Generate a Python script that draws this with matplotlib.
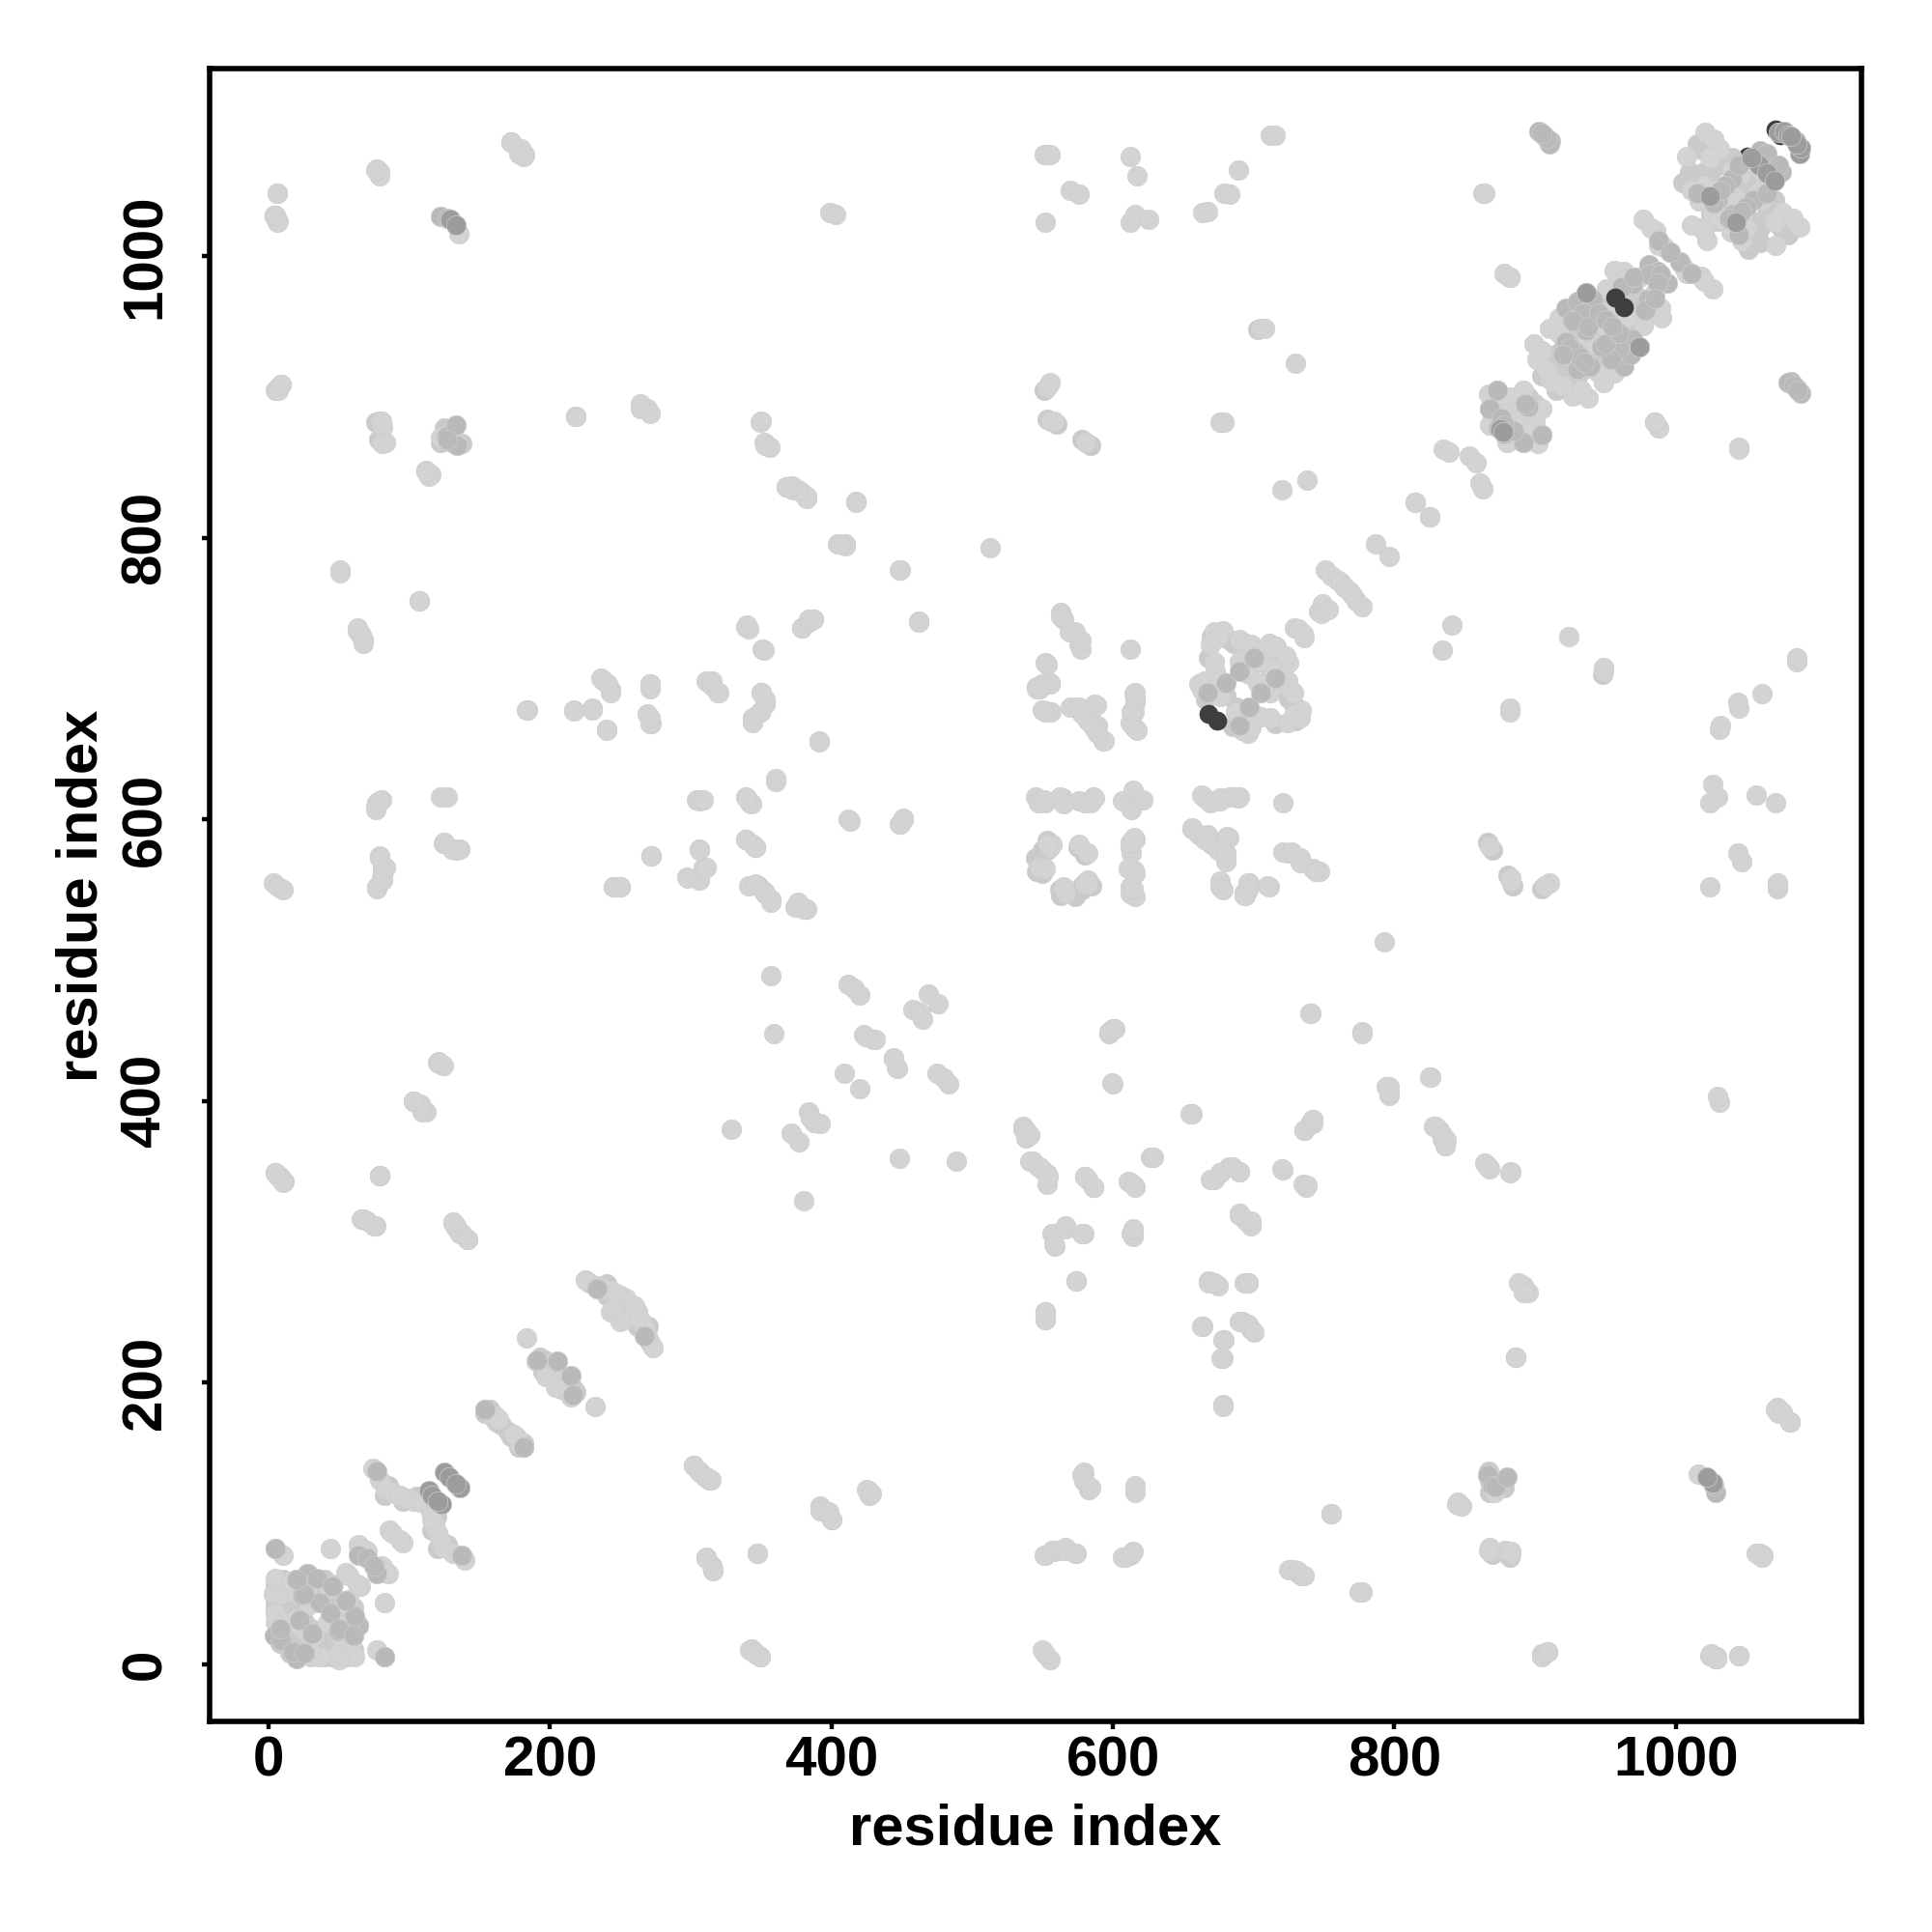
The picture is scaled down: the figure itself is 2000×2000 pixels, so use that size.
import numpy as np
import matplotlib
matplotlib.use('Agg')
import matplotlib.pyplot as plt

# contacts, upper triangle only (the map is symmetric)
weak_i = [6,4,5,7,5,7,9,77,79,172,178,182,135,399,403,551,553,555,570,576,552,612,617,612,616,625,664,667,679,683,689,712,715,863,
          555,553,556,558,581,676,679,730,705,708,720,738,815,787,835,839,853,878,882,882,888,1045,
          79,81,80,83,112,115,122,134,218,264,269,271,350,352,354,356,368,373,379,382,417,404,410,449,462,513,51,107,63,65,67,
          339,341,351,379,384,387,563,565,573,576,552,612,
          184,217,230,240,271,271,269,272,311,315,319,350,349,344,353,391,360,304,308,339,342,412,448,451,77,80,76,122,127,124,131,136,
          3,7,10,79,81,81,83,80,77,245,250,272,297,306,309,306,339,344,346,341,348,351,353,357,374,379,382,
          5,8,11,66,70,76,79,131,133,136,141,103,108,112,120,123,357,359,329,371,384,385,388,412,416,420,423,430,409,444,446,458,462,469,
          545,552,564,576,580,586,607,614,548,552,555,557,554,576,584,587,547,551,562,565,
          546,548,555,552,556,570,576,580,584,589,593,587,615,616,615,615,
          594,589,586,582,578,575,588,552,550,555,550,546,553,577,577,569,563,617,612,613,616,616,
          661,663,665,669,672,678,675,672,673,677,676,690,694,698,690,693,697,704,700,711,716,722,720,708,712,
          729,732,746,749,751,755,759,762,765,815,
          868,868,867,873,882,892,871,879,888,884,
          1021,1027,1031,1008,1024,1040,1046,1059,1011,1020,1033,1017,1011,1018,1026,1039,
          977,986,992,982,988,996,956,963,951,974,964,956,917,910,899,901,910,908,905,938,942,949,917,
          183,190,194,198,202,197,154,157,161,163,225,233,236,243,250,254,243,245,238,247,
          141,137,133,131,75,67,79,10,7,5,109,108,103,124,121,77,81,81,79,76,79,
          134,130,125,67,66,63,107,51,114,112,81,80,1024,4,1029,79,76,181,179,172,6,905,909,
          349,353,264,218,417,382,376,372,368,410,406,448,462,379,384,387,352,340,315,320,271,271,271,243,241,236,240,230,217,183,
          245,250,272,306,298,311,306,306,309,357,353,346,380,376,346,339,343,340,360,413,449,451,391,344,349,353,350,
          5,10,44,64,69,70,65,55,57,5,3,5,7,5,8,10,16,32,46,43,28,16,20,24,27,20,29,22,
          74,79,83,88,93,98,103,108,86,88]
weak_j = [1045,1028,1029,1025,905,907,909,1062,1060,1081,1073,1072,1016,1031,1030,1072,1072,1072,1047,1044,1024,1071,1057,1024,1030,1026,1031,1032,1045,1044,1061,1086,1086,1045,
          910,907,883,883,868,882,882,924,949,949,834,841,825,796,863,861,858,988,985,985,878,864,
          883,879,868,868,848,845,871,868,886,895,892,888,883,868,866,864,836,834,832,828,826,796,796,777,741,793,777,755,734,731,728,
          737,735,721,736,740,742,747,742,733,724,711,721,
          678,678,679,664,696,693,675,668,698,695,690,690,676,672,682,656,627,614,614,616,612,600,597,600,612,614,609,616,616,583,579,579,
          555,552,550,574,567,560,566,558,552,552,552,574,559,557,566,579,586,582,580,553,553,550,547,543,538,538,536,
          349,346,343,316,315,311,347,313,310,306,302,400,398,392,427,426,489,448,380,377,392,388,385,483,480,475,447,444,420,431,424,465,463,476,
          616,612,615,613,612,616,613,621,566,565,580,582,582,582,612,615,612,614,616,611,
          694,693,697,677,676,680,680,676,671,667,656,682,689,683,676,665,
          656,661,665,670,675,680,681,676,678,696,696,693,710,721,727,733,744,663,669,676,685,690,
          696,692,698,724,733,734,729,712,705,698,687,728,725,724,712,708,703,715,720,725,723,715,708,712,705,
          736,735,748,753,777,773,770,768,765,825,
          880,892,902,905,900,905,892,893,890,884,
          1088,1083,1076,1071,1070,1061,1059,1062,1047,1050,1037,1039,1022,1020,1031,1045,
          1026,1018,1006,1020,1008,1003,990,989,977,985,984,965,956,949,938,927,913,919,933,942,956,951,945,
          232,215,213,210,207,204,181,178,176,174,273,269,268,265,262,260,250,252,267,263,
          302,306,311,314,311,316,347,342,346,349,392,396,400,425,428,551,557,564,573,607,613,
          578,579,584,725,731,736,755,775,844,847,867,883,6,1029,4,1057,1061,1071,1076,1081,1045,7,9,
          882,866,892,886,825,829,834,837,836,794,796,777,740,736,742,742,720,738,698,690,668,672,696,690,696,700,663,678,677,678,
          552,552,574,558,558,566,578,613,614,541,548,554,536,541,580,586,611,615,629,599,597,601,655,669,676,685,690,
          82,77,82,85,81,80,82,65,63,61,50,36,20,30,50,29,57,60,57,54,64,59,32,49,50,50,42,27,
          139,131,124,122,120,118,116,115,95,93]

# extra contacts inside the dense blobs
dense_i = [5,5,5,8,10,12,12,8,12,15,15,20,20,25,25,25,30,30,35,38,38,40,42,45,48,48,50,52,55,40,45,50,30,35,25,15,40,50,60,60,58,38,30,20,
           122,126,130,131,125,137,78,76,
           1005,1015,1025,1030,1035,1040,1045,1050,1055,1060,1065,1070,1035,1030,1025,1035,1040,1045,1020,1015,1050,1020,1010,1035,1024,1056,
           920,925,915,905,910,915,925,930,935,940,945,950,955,960,965,970,960,945,950,955,960,965,935,925,915,920,930,940,945,950,955,
           870,875,880,885,890,895,870,875,885,895,900,890,
           666,670,672,680,668,670,682,686,695,705,715,718,
           228,240,246,252,256,240,248,193,196,199,203,200,195,198,205,154,157,160,165,162,
           82,85,95,105,553,560,578,584,551,703,550,553,546,562,573,578,575,238,243]
dense_j = [40,45,55,40,45,50,35,25,20,25,45,40,60,55,40,30,45,55,50,45,55,60,50,50,40,30,45,35,30,25,20,15,12,10,10,8,8,8,10,20,25,20,15,15,
           868,870,868,878,878,867,870,882,
           1052,1055,1060,1065,1070,1055,1050,1060,1055,1050,1045,1040,1050,1040,1030,1025,1030,1035,1075,1080,1065,1060,1060,1030,1038,1069,
           935,945,930,925,925,918,925,940,955,950,960,965,975,980,975,975,970,935,945,950,955,960,925,915,905,908,915,925,928,930,940,
           885,895,885,895,895,900,900,885,878,885,890,880,
           685,695,690,688,715,730,728,725,720,720,715,705,
           271,262,258,255,252,270,248,218,216,212,210,212,208,205,205,178,181,175,170,172,
           120,127,116,119,884,881,870,866,905,948,578,585,563,550,545,553,580,698,692]

medium_i = [122,127,129,126,133,5,64,70,4,9,27,22,36,34,8,24,45,25,20,
            874,877,868,873,922,930,936,936,922,928,941,934,927,969,981,987,981,876,880,895,
            938,945,925,950,962,970,930,
            1040,1035,1045,1030,1015,1060,1065,
            1027,1032,988,1003,77,154,191,205,233,866,870,903,906,911,910,908,905,
            667,680,690,700]
medium_j = [1028,1027,1026,872,880,82,77,75,20,17,64,31,44,61,25,49,55,50,60,
            878,882,892,905,963,968,974,947,939,932,969,960,954,980,994,989,987,885,878,893,
            950,960,935,955,978,985,920,
            1055,1050,1065,1040,1045,1075,1073,
            1038,1047,1011,996,137,181,216,215,267,134,127,1089,1086,1082,1080,1084,1087,
            690,697,705,715]

strong_i = [114,116,125,128,129,133,1073,1077,1080,1085,1059,936,875,1024,1054]
strong_j = [123,120,136,133,1026,1022,1088,1089,1086,1082,1065,974,877,1043,1070]

# dark rims that show behind the lighter dots, and the darkest spots on top
rim_x = [1021,1051,1053,1071,1074]
rim_y = [1041,1071,1066,1090,1086]
top_x = [957,963,668,674]
top_y = [971,964,675,670]

weak_grey = '#d3d3d3'
dense_grey = '#cacaca'
medium_grey = '#b9b9b9'
strong_grey = '#9c9c9c'
top_grey = '#3e3e3e'

tick_values = [0, 200, 400, 600, 800, 1000]

plt.rcParams['font.family'] = ['Liberation Sans', 'DejaVu Sans']
plt.rcParams['font.weight'] = 'bold'

fig = plt.figure(figsize=(10, 10), dpi=200)
ax = fig.add_axes([0.1085, 0.1088, 0.855, 0.8555])

ax.scatter(rim_x, rim_y, s=50, color=top_grey, linewidths=0, zorder=2)
for ci, cj, grey in [(dense_i, dense_j, dense_grey),
                     (weak_i, weak_j, weak_grey),
                     (medium_i, medium_j, medium_grey),
                     (strong_i, strong_j, strong_grey)]:
    ax.scatter(np.r_[ci, cj], np.r_[cj, ci], s=54, color=grey, edgecolors='#cecece',
               linewidths=0.25, zorder=2)
ax.scatter(top_x, top_y, s=50, color=top_grey, linewidths=0, zorder=3)

ax.set_xlim(-42, 1132)
ax.set_ylim(-41, 1133)
ax.set_xticks(tick_values)
ax.set_yticks(tick_values)
ax.tick_params(axis='both', length=3, width=1.6, labelsize=21)
ax.tick_params(axis='x', pad=2)
ax.tick_params(axis='y', pad=11)
for lab in ax.get_yticklabels():
    lab.set_rotation(90)
    lab.set_va('center')
for sp in ax.spines.values():
    sp.set_linewidth(2)
ax.set_xlabel('residue index', fontsize=21.5, fontweight='bold', labelpad=6)
ax.set_ylabel('residue index', fontsize=21.5, fontweight='bold', labelpad=4)

fig.savefig('out.png', dpi=200)
